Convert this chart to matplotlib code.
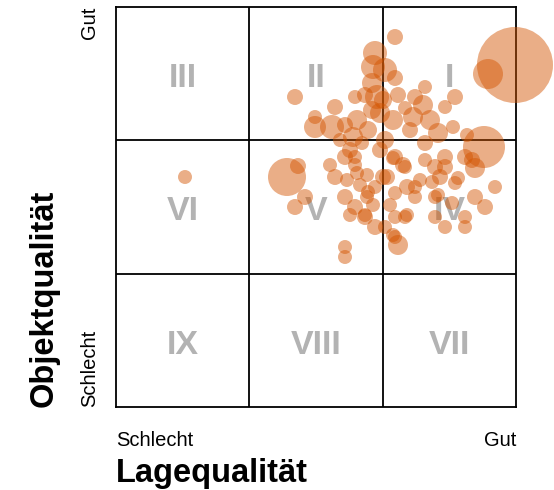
import matplotlib.pyplot as plt

# Lage- und Objektqualitaet (Skala 0-100), Blasengroesse
lage = [99.75, 93, 92, 42.75, 45.5, 17.25, 44.75, 69.75, 64.75, 64.25,
        64, 65.25, 67.25, 69.75, 59.75, 54.75, 49.75, 49.75, 54, 60.25,
        59.25, 66, 69.25, 74.25, 78.5, 80.5, 74.75, 77.25, 76.75, 82.25,
        84.75, 84.25, 87.75, 66.75, 64, 62.25, 63, 67.25, 66, 58.5,
        57.25, 59.75, 59.75, 54.75, 57.75, 60.25, 57.25, 59.75, 62.25, 64.75,
        62.75, 64.75, 47.25, 44.75, 57.25, 57.25, 66.75, 67.75, 69.25, 71.75,
        69.75, 72.25, 72.75, 74.75, 76, 69.75, 74.75, 68.5, 72.75, 69.75,
        72.25, 67.25, 69.25, 69.75, 70.5, 77.25, 79.75, 82.25, 82.25, 81,
        79, 84.75, 85.5, 87.25, 89, 89.75, 79.75, 80.5, 84, 89.75,
        94.75, 92.25, 87.25, 87.25, 82.25, 79.75, 63, 64.25, 62.25, 62.75,
        56, 61.5, 57.25, 70.5, 72.25, 73.5, 61, 58.5, 53.5, 77.25]
objekt = [85.5, 83.25, 65, 57.5, 60.25, 57.5, 77.5, 92.5, 88.5, 85,
          81, 77.5, 84.25, 82.25, 77.5, 75, 72.5, 70, 70, 71.75,
          67.5, 73.5, 71.75, 72.5, 71.75, 68.5, 77.5, 80, 75.5, 75,
          77.5, 70, 68, 76.75, 74.25, 78, 69.25, 66.75, 64.25, 64.25,
          62.5, 62.5, 60.5, 57.5, 56.75, 58.5, 52.5, 50, 47.5, 45,
          52.5, 55, 52.5, 50, 40, 37.5, 57.5, 57.5, 62.25, 60.5,
          62.5, 60, 55, 55, 56.75, 53.5, 52.5, 50.5, 48, 47.5,
          47.5, 45, 43, 42.5, 40.5, 66, 60, 62.5, 60, 57.5,
          56.25, 56, 57.25, 62.5, 61.75, 59.75, 52.5, 53, 51, 52.5,
          55, 50, 47.5, 45, 45, 47.5, 53.75, 50.5, 48, 58,
          66.75, 66, 70.5, 78, 74.75, 69.25, 55.5, 48, 60.5, 61.75]
groesse = [38, 15, 21, 19, 8, 7, 8, 8, 12, 12,
           10, 12, 12, 8, 7, 8, 7, 11, 12, 10,
           10, 10, 10, 10, 10, 10, 8, 7, 10, 7,
           8, 7, 7, 9, 9, 8, 9, 9, 8, 8,
           8, 7, 7, 8, 7, 7, 8, 8, 8, 8,
           7, 7, 8, 8, 7, 7, 8, 8, 7, 8,
           8, 7, 8, 7, 7, 7, 7, 7, 7, 7,
           7, 7, 7, 7, 10, 8, 8, 8, 8, 8,
           7, 7, 7, 8, 8, 10, 7, 7, 7, 8,
           7, 8, 7, 7, 7, 7, 7, 7, 7, 7,
           7, 7, 8, 8, 7, 8, 7, 7, 7, 7]

felder = ["III", "II", "I", "VI", "V", "IV", "IX", "VIII", "VII"]

plt.rcParams["font.family"] = ["Liberation Sans", "DejaVu Sans"]

fig = plt.figure(figsize=(5.54, 4.9), dpi=100)
ax = fig.add_axes([116 / 554, 83 / 490, 400 / 554, 400 / 490])
ax.set_xlim(0, 100)
ax.set_ylim(0, 100)

for v in [100 / 3, 200 / 3]:
    ax.axvline(v, color="black", lw=1.3, zorder=1)
    ax.axhline(v, color="black", lw=1.3, zorder=1)
for s in ax.spines.values():
    s.set_linewidth(1.3)
ax.set_xticks([])
ax.set_yticks([])

for i, name in enumerate(felder):
    cx = (i % 3 + 0.5) * 100 / 3
    cy = 100 - (i // 3 + 0.5) * 100 / 3 - 1.2
    ax.text(cx, cy, name, color="#b3b3b3", fontsize=24.5, fontweight="bold",
            ha="center", va="center", zorder=2)

ax.scatter(lage, objekt, s=[(1.44 * g) ** 2 for g in groesse], color="#d35400",
           alpha=0.47, linewidths=0, zorder=3, clip_on=False)

fig.text(116 / 554, 1 - 440 / 490, "Schlecht", fontsize=14.5, ha="left", va="center")
fig.text(516 / 554, 1 - 440 / 490, "Gut", fontsize=14.5, ha="right", va="center")
fig.text(116 / 554, 1 - 482 / 490, "Lagequalität", fontsize=23.5, fontweight="bold",
         ha="left", va="baseline")
fig.text(90 / 554, 1 - 407 / 490, "Schlecht", fontsize=14.5, rotation=90,
         ha="center", va="bottom")
fig.text(90 / 554, 1 - 7 / 490, "Gut", fontsize=14.5, rotation=90,
         ha="center", va="top")
fig.text(44 / 554, 1 - 407 / 490, "Objektqualität", fontsize=23.5, fontweight="bold",
         rotation=90, ha="center", va="bottom")

fig.savefig("out.png", dpi=100)
